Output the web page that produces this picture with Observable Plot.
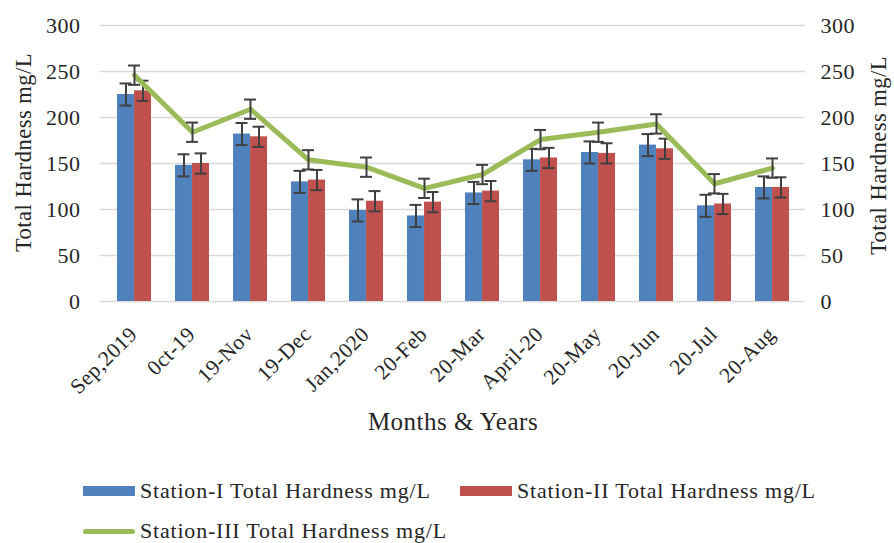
<!DOCTYPE html>
<html>
<head>
<meta charset="utf-8">
<script src="https://cdn.jsdelivr.net/npm/d3@7"></script>
<script src="https://cdn.jsdelivr.net/npm/@observablehq/plot@0.6"></script>
<style>
  html, body { margin: 0; padding: 0; background: #fff; }
  #wrap { width: 894px; font-family: 'Liberation Serif', 'Times New Roman', serif; color: #262626; }
  #legend { position: relative; width: 894px; height: 103px; font-size: 22px; letter-spacing: 0.8px; }
  .item { position: absolute; display: flex; align-items: center; height: 24px; white-space: nowrap; }
  .sw { width: 52px; height: 10px; margin-right: 5px; }
  .ln { width: 52px; height: 5px; margin-right: 5px; border-radius: 3px; }
</style>
</head>
<body>
<div id="wrap">
  <div id="chart"></div>
  <div id="legend"></div>
</div>
<script>
const months = ["Sep,2019","0ct-19","19-Nov","19-Dec","Jan,2020","20-Feb","20-Mar","April-20","20-May","20-Jun","20-Jul","20-Aug"];
const station1 = [225,148,182,130,99,93,118,154,162,170,104,124];
const station2 = [229,150,179,132,109,108,120,156,161,166,106,124];
const station3 = [246,184,209,154,146,123,138,176,184,193,128,145];
const err1 = [12,12,12,12,12,12,12,12,12,12,12,12];
const err2 = [11,11,11,11,11,11,11,11,11,11,11,11];
const err3 = [10.5,10.5,10.5,10.5,10.5,10.5,10.5,10.5,10.5,10.5,10.5,10.5];
const yTicks = [0,50,100,150,200,250,300];
const seriesNames = ["Station-I Total Hardness mg/L","Station-II Total Hardness mg/L","Station-III Total Hardness mg/L"];
const colors = ["#4f81bd","#c0504d","#9bbb59"];

const data = months.map((m, i) => ({month: m, s1: station1[i], s2: station2[i], s3: station3[i], e1: err1[i], e2: err2[i], e3: err3[i]}));

const W = 894, H = 440, mL = 100, mR = 89, mT = 25, mB = 139;
const padIn = 0.42, padOut = 0.21;
const step = (W - mL - mR) / (months.length - padIn + 2 * padOut);
const bw = step * (1 - padIn);
const cap = 12;
const errColor = "#404040";

function errMarks(key, ekey, offset) {
  const c = bw / 2 + offset; // centre within band
  const insL = c - cap / 2, insR = bw - c - cap / 2;
  return [
    Plot.ruleX(data, {x: "month", y1: d => d[key] - d[ekey], y2: d => d[key] + d[ekey], dx: offset, stroke: errColor, strokeWidth: 2}),
    Plot.tickY(data, {x: "month", y: d => d[key] + d[ekey], insetLeft: insL, insetRight: insR, stroke: errColor, strokeWidth: 2}),
    Plot.tickY(data, {x: "month", y: d => d[key] - d[ekey], insetLeft: insL, insetRight: insR, stroke: errColor, strokeWidth: 2})
  ];
}

const chart = Plot.plot({
  width: W, height: H,
  marginLeft: mL, marginRight: mR, marginTop: mT, marginBottom: mB,
  style: {fontFamily: "'Liberation Serif', 'Times New Roman', serif", fontSize: "22px", color: "#262626", background: "#fff", overflow: "visible", letterSpacing: "0.5px"},
  x: {domain: months, paddingInner: padIn, paddingOuter: padOut, axis: null},
  y: {domain: [0, 300], axis: null},
  marks: [
    Plot.ruleY(yTicks, {stroke: "#d9d9d9", strokeWidth: 1.4}),
    Plot.barY(data, {x: "month", y: "s1", fill: colors[0], insetRight: bw / 2}),
    Plot.barY(data, {x: "month", y: "s2", fill: colors[1], insetLeft: bw / 2}),
    ...errMarks("s1", "e1", -bw / 4),
    ...errMarks("s2", "e2", bw / 4),
    Plot.lineY(data, {x: "month", y: "s3", stroke: colors[2], strokeWidth: 5, strokeLinejoin: "round", strokeLinecap: "round"}),
    ...errMarks("s3", "e3", 0),
    Plot.axisY({anchor: "left", ticks: yTicks, tickSize: 0, tickPadding: 20, fontSize: 22, label: null}),
    Plot.axisY({anchor: "right", ticks: yTicks, tickSize: 0, tickPadding: 15, fontSize: 22, label: null}),
    Plot.text(months, {x: d => d, text: d => d, frameAnchor: "bottom", rotate: -45, textAnchor: "end", lineAnchor: "bottom", dx: 4, dy: 34, fontSize: 21.5}),
    Plot.text(["Months & Years"], {text: d => d, frameAnchor: "bottom", dy: 120, fontSize: 25, lineAnchor: "middle", textAnchor: "middle"}),
    Plot.text(["Total Hardness mg/L"], {text: d => d, frameAnchor: "left", rotate: -90, dx: -77, dy: -11, fontSize: 22.5, lineAnchor: "middle", textAnchor: "middle"}),
    Plot.text(["Total Hardness mg/L"], {text: d => d, frameAnchor: "right", rotate: -90, dx: 73, dy: -8, fontSize: 22.5, lineAnchor: "middle", textAnchor: "middle"})
  ]
});
document.getElementById("chart").appendChild(chart);

const legend = document.getElementById("legend");
const items = [
  {name: seriesNames[0], color: colors[0], type: "sw", left: 83, top: 39},
  {name: seriesNames[1], color: colors[1], type: "sw", left: 460, top: 39},
  {name: seriesNames[2], color: colors[2], type: "ln", left: 83, top: 79}
];
items.forEach(it => {
  const d = document.createElement("div");
  d.className = "item";
  d.style.left = it.left + "px";
  d.style.top = it.top + "px";
  const s = document.createElement("span");
  s.className = it.type;
  s.style.background = it.color;
  const t = document.createElement("span");
  t.textContent = it.name;
  d.appendChild(s); d.appendChild(t);
  legend.appendChild(d);
});
</script>
</body>
</html>
